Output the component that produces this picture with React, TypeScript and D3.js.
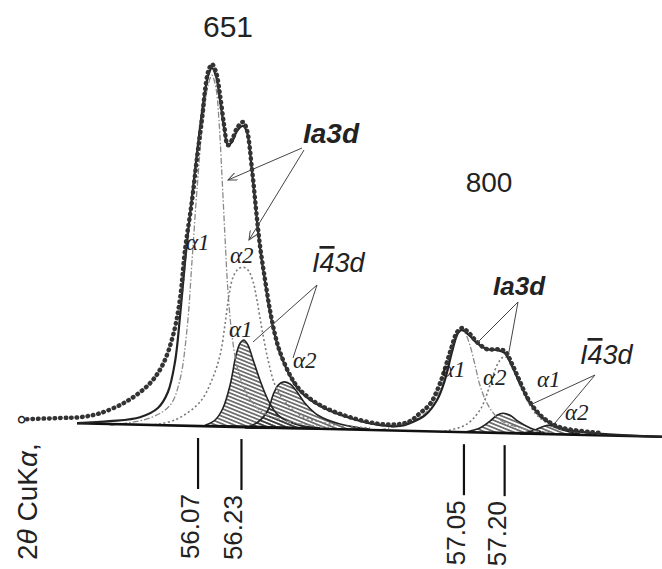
import React from 'react';
import * as d3 from 'd3';

type Pt = [number, number];

// 2θ (deg) vs intensity (arb. units)
const observed: Pt[] = [
  [55.44, 27], [55.561, 30], [55.635, 32], [55.709, 42], [55.808, 72], [55.893, 117], [55.941, 165],
  [55.978, 237], [56.003, 325], [56.022, 450], [56.048, 575], [56.066, 680], [56.085, 780], [56.096, 850],
  [56.107, 895], [56.121, 915], [56.136, 895], [56.151, 837], [56.166, 762], [56.18, 712], [56.195, 725],
  [56.214, 755], [56.236, 770], [56.25, 750], [56.269, 650], [56.284, 550], [56.298, 462], [56.317, 375],
  [56.335, 300], [56.354, 237], [56.372, 195], [56.409, 137], [56.446, 100], [56.52, 62], [56.63, 32],
  [56.741, 15], [56.814, 15], [56.851, 22], [56.888, 42], [56.925, 65], [56.962, 117], [56.999, 195],
  [57.025, 245], [57.043, 255], [57.072, 240], [57.098, 220], [57.135, 202], [57.172, 202], [57.201, 197],
  [57.227, 165], [57.257, 120], [57.283, 82], [57.312, 52], [57.349, 27], [57.404, 7], [57.515, -5], [57.552, -7],
];

const fitSum: Pt[] = [
  [55.624, 17], [55.745, 22], [55.856, 32], [55.922, 55], [55.959, 95], [55.985, 170], [56.003, 280],
  [56.022, 420], [56.04, 537], [56.059, 650], [56.077, 755], [56.092, 830], [56.107, 885], [56.121, 905],
  [56.136, 885], [56.151, 825], [56.166, 755], [56.18, 712], [56.195, 720], [56.214, 748], [56.236, 760],
  [56.25, 745], [56.269, 645], [56.284, 545], [56.298, 457], [56.317, 370], [56.335, 295], [56.354, 235],
  [56.372, 192], [56.409, 135], [56.446, 97], [56.52, 60], [56.63, 30], [56.741, 12], [56.814, 10],
  [56.851, 17], [56.907, 37], [56.951, 75], [56.98, 125], [57.006, 195], [57.028, 242], [57.043, 250],
  [57.072, 235], [57.098, 217], [57.135, 202], [57.172, 200], [57.201, 192], [57.227, 160], [57.257, 115],
  [57.283, 80], [57.312, 50], [57.349, 25], [57.404, 5], [57.515, -7], [57.78, -17],
];

// 651 reflection components
const ia3dA1_651: Pt[] = [
  [55.745, 12], [55.893, 30], [55.967, 62], [56.003, 125], [56.029, 250], [56.048, 425], [56.066, 600],
  [56.088, 775], [56.107, 862], [56.121, 887], [56.136, 855], [56.147, 775], [56.158, 637], [56.169, 487],
  [56.18, 350], [56.195, 237], [56.217, 150], [56.254, 85], [56.306, 45], [56.409, 20], [56.556, 7],
];
const ia3dA2_651: Pt[] = [
  [55.893, 12], [55.985, 25], [56.077, 70], [56.121, 125], [56.151, 187], [56.169, 262], [56.184, 337],
  [56.199, 382], [56.217, 402], [56.236, 407], [56.254, 400], [56.273, 370], [56.287, 325], [56.306, 250],
  [56.328, 175], [56.354, 112], [56.391, 70], [56.446, 37], [56.556, 15], [56.704, 5],
];
const i43dA1_651: Pt[] = [
  [56.096, 12], [56.133, 25], [56.162, 55], [56.188, 112], [56.21, 187], [56.225, 217], [56.239, 225],
  [56.254, 212], [56.273, 175], [56.298, 125], [56.328, 75], [56.365, 37], [56.427, 15], [56.52, 5],
];
const i43dA2_651: Pt[] = [
  [56.243, 5], [56.291, 20], [56.328, 50], [56.346, 87], [56.365, 112], [56.383, 120], [56.409, 115],
  [56.435, 95], [56.464, 67], [56.512, 37], [56.593, 15], [56.704, 2],
];

// 800 reflection components
const ia3dA1_800: Pt[] = [
  [56.741, 0], [56.851, 20], [56.907, 42], [56.943, 75], [56.973, 120], [56.999, 187], [57.021, 237],
  [57.036, 250], [57.054, 242], [57.072, 212], [57.091, 162], [57.109, 112], [57.139, 62], [57.183, 25],
  [57.257, 5], [57.367, -7],
];
const ia3dA2_800: Pt[] = [
  [56.962, -5], [57.054, 12], [57.109, 50], [57.146, 112], [57.172, 162], [57.194, 182], [57.212, 180],
  [57.231, 155], [57.257, 112], [57.283, 75], [57.319, 37], [57.386, 7], [57.478, -7],
];
const i43dA1_800: Pt[] = [
  [57.054, -5], [57.109, 5], [57.146, 22], [57.172, 37], [57.194, 42], [57.22, 37], [57.249, 22],
  [57.294, 5], [57.349, -7],
];
const i43dA2_800: Pt[] = [
  [57.257, -10], [57.312, 0], [57.36, 12], [57.404, 2], [57.478, -10],
];

const baseline: Pt[] = [[55.624, 17], [57.78, -17]];
const tickValues = [56.07, 56.23, 57.05, 57.2];
const tickLabels = ['56.07', '56.23', '57.05', '57.20'];

const W = 662;
const H = 569;
const sans = '"Liberation Sans", Arial, sans-serif';
const serif = '"Liberation Serif", "Times New Roman", serif';

const App: React.FC = () => {
  const x = d3.scaleLinear().domain([55.34, 57.78]).range([0, W]);
  const y = d3.scaleLinear().domain([0, 1000]).range([430, 30]);
  const bgAt = d3.scaleLinear().domain(baseline.map(d => d[0])).range(baseline.map(d => d[1]));

  const line = d3.line<Pt>()
    .x(d => x(d[0]))
    .y(d => y(d[1]))
    .curve(d3.curveCatmullRom.alpha(0.5));
  const closed = (pts: Pt[]) => (line(pts) || '') + 'Z';

  const hatched = [i43dA1_651, i43dA2_651, i43dA1_800, i43dA2_800];

  const alpha = (t: string, px: number, py: number, key: string) => (
    <text key={key} x={px} y={py} fontFamily={serif} fontStyle="italic" fontSize={23} fill="#222">{t}</text>
  );

  return (
    <svg width={W} height={H} style={{ position: 'absolute', left: 0, top: 0, background: '#fff' }}>
      <defs>
        <pattern id="hatch" width="4" height="3.5" patternUnits="userSpaceOnUse" patternTransform="rotate(22)">
          <line x1="0" y1="1.75" x2="4" y2="1.75" stroke="#2a2a2a" strokeWidth="1.2" />
        </pattern>
        <marker id="arr" markerWidth="10" markerHeight="8" refX="9" refY="4" orient="auto" markerUnits="userSpaceOnUse">
          <path d="M0,0 L9,4 L0,8" fill="none" stroke="#444" strokeWidth="1" />
        </marker>
      </defs>

      {/* hatched I-43d components */}
      {hatched.map((pts, i) => (
        <path key={'h' + i} d={closed(pts)} fill="url(#hatch)" stroke="#222" strokeWidth={1.6} />
      ))}

      {/* Ia3d components */}
      {[ia3dA1_651, ia3dA1_800].map((pts, i) => (
        <path key={'a1' + i} d={line(pts) || ''} fill="none" stroke="#8a8a8a" strokeWidth={1.3} strokeDasharray="6 2 1.5 2" />
      ))}
      {[ia3dA2_651, ia3dA2_800].map((pts, i) => (
        <path key={'a2' + i} d={line(pts) || ''} fill="none" stroke="#7a7a7a" strokeWidth={1.6} strokeDasharray="2 2.5" />
      ))}

      {/* baseline */}
      <path d={line(baseline) || ''} fill="none" stroke="#111" strokeWidth={2.6} />

      {/* fitted sum and observed profile */}
      <path d={line(fitSum) || ''} fill="none" stroke="#222" strokeWidth={2.2} />
      <path d={line(observed) || ''} fill="none" stroke="#333" strokeWidth={4.5} strokeDasharray="0.5 5" strokeLinecap="round" />

      {/* peak position ticks */}
      {tickValues.map((v, i) => {
        const tx = x(v);
        const by = y(bgAt(v));
        return (
          <g key={'t' + i}>
            <line x1={tx} x2={tx} y1={by + 12} y2={by + 63} stroke="#111" strokeWidth={2.2} />
            <text transform={`translate(${tx + 1},${by + 68}) rotate(-90)`} textAnchor="end"
              fontFamily={sans} fontSize={26} fill="#222">{tickLabels[i]}</text>
          </g>
        );
      })}

      {/* axis title */}
      <text transform="translate(37,560) rotate(-90)" fontFamily={sans} fontSize={28} fill="#222">
        2<tspan fontStyle="italic">θ</tspan> CuK<tspan fontStyle="italic">α</tspan>,<tspan dx={18}>°</tspan>
      </text>

      {/* reflection indices */}
      <text x={228} y={37} textAnchor="middle" fontFamily={sans} fontSize={30} fill="#222">651</text>
      <text x={489} y={192} textAnchor="middle" fontFamily={sans} fontSize={28} fill="#222">800</text>

      {/* phase labels and leaders */}
      <g stroke="#444" strokeWidth={1} fill="none">
        <line x1={302} y1={148} x2={228} y2={180} markerEnd="url(#arr)" />
        <line x1={304} y1={150} x2={249} y2={240} markerEnd="url(#arr)" />
        <line x1={317} y1={285} x2={253} y2={342} />
        <line x1={317} y1={285} x2={293} y2={358} />
        <line x1={518} y1={302} x2={477} y2={343} />
        <line x1={518} y1={302} x2={508} y2={357} />
        <line x1={595} y1={375} x2={530} y2={405} />
        <line x1={595} y1={375} x2={555} y2={423} />
      </g>

      <text x={303} y={143} fontFamily={sans} fontStyle="italic" fontWeight="bold" fontSize={28} fill="#222">Ia3d</text>
      <text x={493} y={295} fontFamily={sans} fontStyle="italic" fontWeight="bold" fontSize={26} fill="#222">Ia3d</text>
      <text x={312} y={272} fontFamily={sans} fontStyle="italic" fontSize={27} fill="#222">
        I<tspan textDecoration="overline">4</tspan>3d
      </text>
      <text x={580} y={364} fontFamily={sans} fontStyle="italic" fontSize={27} fill="#222">
        I<tspan textDecoration="overline">4</tspan>3d
      </text>

      {alpha('α1', 186, 250, 'l1')}
      {alpha('α2', 230, 263, 'l2')}
      {alpha('α1', 229, 337, 'l3')}
      {alpha('α2', 293, 368, 'l4')}
      {alpha('α1', 442, 377, 'r1')}
      {alpha('α2', 483, 385, 'r2')}
      {alpha('α1', 537, 387, 'r3')}
      {alpha('α2', 565, 420, 'r4')}
    </svg>
  );
};

export default App;
